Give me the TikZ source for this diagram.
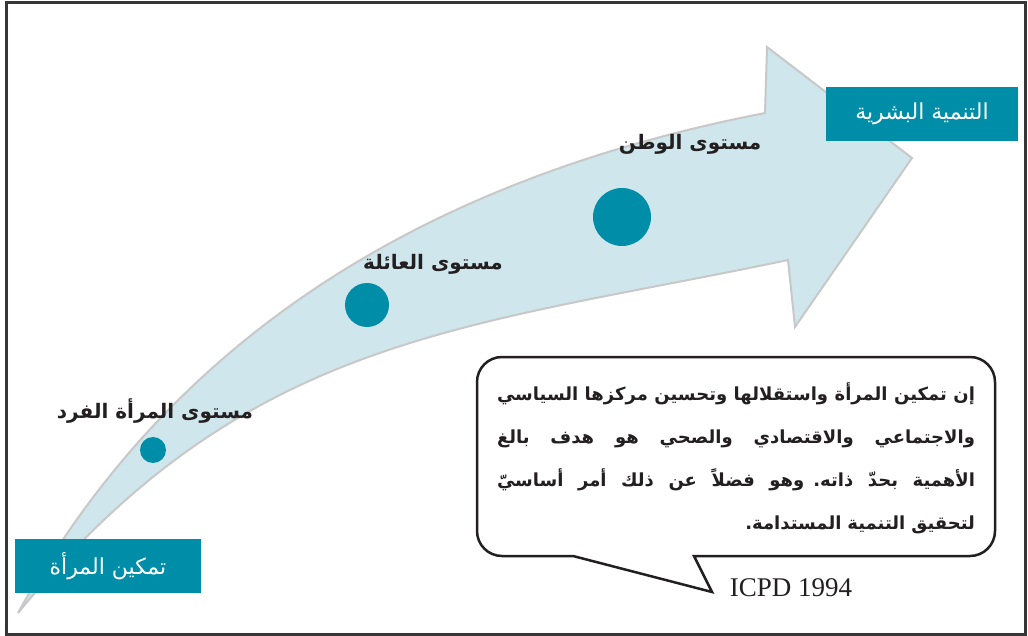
\documentclass[tikz,border=0pt]{standalone}
\usepackage{fontspec}
\newfontfamily\arabicfont[Script=Arabic]{DejaVu Sans}
\newfontfamily\latinserif{Liberation Serif}
\TeXXeTstate=1
\definecolor{petrol}{RGB}{0,141,168}
\definecolor{pale}{RGB}{206,230,236}
\definecolor{rim}{RGB}{200,200,200}
\definecolor{ink}{RGB}{35,31,32}
\newcommand{\artext}[1]{\beginR #1\endR}
% full-width justified line of right-to-left text
\newcommand{\msgline}[1]{\makebox[478pt][s]{\spaceskip=.3em plus 1fill\beginR #1\endR}}

\begin{document}
\begin{tikzpicture}
	[x=1pt,y=-1pt,
	dot/.style={shape=circle,fill=petrol,inner sep=0pt},
	stage/.style={text=ink,font=\arabicfont\bfseries\fontsize{20}{24}\selectfont},
	tag/.style={fill=petrol,text=white,minimum height=54pt,inner sep=0pt,
		font=\arabicfont\fontsize{22}{26}\selectfont},
	bubble/.style={draw=ink,line width=2.5pt,fill=white}]
	\useasboundingbox (0,0) rectangle (1028,636);
	\draw [line width=3pt,draw=ink!90] (6,3) rectangle (1025,634);
	
	% the big bent arrow
	\draw [fill=pale,draw=rim,line width=2pt]
		(18,613) .. controls (173,333) and (431,178) .. (765,113)
		-- (767,47) -- (912,158) -- (795,327) -- (788,260)
		.. controls (465,328) and (246,334) .. (18,613) -- cycle;
	
	\node (d1) [dot,minimum size=26pt] at (153,450) {};
	\node (d2) [dot,minimum size=44pt] at (367,305) {};
	\node (d3) [dot,minimum size=58pt] at (622,217) {};
	
	\node (s1) [stage] at (155,411) {\artext{مستوى المرأة الفرد}};
	\node (s2) [stage] at (433,264) {\artext{مستوى العائلة}};
	\node (s3) [stage] at (690,144) {\artext{مستوى الوطن}};
	
	\node (start) [tag,minimum width=186pt] at (108,566) {\artext{تمكين المرأة}};
	\node (goal) [tag,minimum width=192pt] at (922,114) {\artext{التنمية البشرية}};
	
	% speech bubble
	\draw [bubble] (694,556) -- (712,592) -- (573,556) [rounded corners=25pt]
		-- (477,556) -- (477,357) -- (995,357) -- (995,556) [sharp corners] -- cycle;
	\node (msg) [text=ink,text width=478pt,align=right,inner sep=0pt,
		font=\arabicfont\bfseries\fontsize{18}{43}\selectfont] at (736,458)
		{\msgline{إن تمكين المرأة واستقلالها وتحسين مركزها السياسي}\\
		 \msgline{والاجتماعي والاقتصادي والصحي هو هدف بالغ}\\
		 \msgline{الأهمية بحدّ ذاته. وهو فضلاً عن ذلك أمر أساسيّ}\\
		 \artext{لتحقيق التنمية المستدامة.}};
	\node (src) [text=ink,font=\latinserif\fontsize{27}{30}\selectfont] at (791,588) {ICPD 1994};
\end{tikzpicture}
\end{document}
